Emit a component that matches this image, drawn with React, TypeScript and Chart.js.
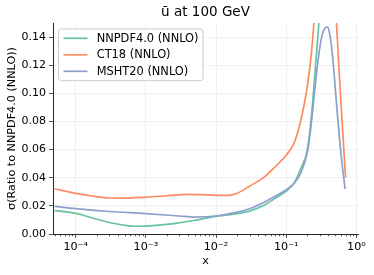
import React, { useEffect, useRef } from "react";
import { Chart, registerables } from "chart.js";

Chart.register(...registerables);

const chartTitle = "ū at 100 GeV";
const xAxisTitle = "x";
const yAxisTitle = "σ(Ratio to NNPDF4.0 (NNLO))";

const seriesLabels = ["NNPDF4.0 (NNLO)", "CT18 (NNLO)", "MSHT20 (NNLO)"];
const seriesColors = ["#66c2a5", "#fc8d62", "#8da0cb"];

const nnpdfX = [5e-5, 1e-4, 2e-4, 3e-4, 5e-4, 7e-4, 1e-3, 2e-3, 3e-3, 5e-3, 1e-2, 2e-2, 3e-2, 5e-2, 7e-2, 0.1, 0.13, 0.16, 0.2, 0.23, 0.26, 0.29, 0.32, 0.4, 0.5, 0.7];
const nnpdfY = [0.0166, 0.0147, 0.0105, 0.0082, 0.0062, 0.0055, 0.0056, 0.0068, 0.008, 0.0098, 0.0125, 0.0145, 0.0163, 0.0208, 0.0255, 0.0305, 0.0365, 0.046, 0.06, 0.085, 0.118, 0.148, 0.18, 0.3, 0.5, 0.8];

const ct18X = [5e-5, 1e-4, 2e-4, 3e-4, 5e-4, 1e-3, 2e-3, 4e-3, 6e-3, 1e-2, 1.5e-2, 2e-2, 3e-2, 5e-2, 7e-2, 0.1, 0.13, 0.16, 0.2, 0.23, 0.25, 0.3, 0.38, 0.45, 0.52, 0.6, 0.7];
const ct18Y = [0.0322, 0.0289, 0.0265, 0.0256, 0.0255, 0.0262, 0.0272, 0.0282, 0.028, 0.0275, 0.0275, 0.029, 0.034, 0.041, 0.048, 0.056, 0.065, 0.08, 0.105, 0.13, 0.152, 0.2, 0.25, 0.22, 0.15, 0.095, 0.04];

const mshtX = [5e-5, 1e-4, 3e-4, 1e-3, 3e-3, 5e-3, 1e-2, 2e-2, 3e-2, 5e-2, 0.1, 0.13, 0.16, 0.2, 0.22, 0.25, 0.28, 0.32, 0.36, 0.39, 0.42, 0.46, 0.53, 0.6, 0.69];
const mshtY = [0.0197, 0.018, 0.016, 0.0145, 0.0128, 0.012, 0.0128, 0.0155, 0.018, 0.023, 0.0315, 0.036, 0.043, 0.058, 0.072, 0.098, 0.121, 0.14, 0.1465, 0.147, 0.141, 0.125, 0.088, 0.058, 0.032];

const xTicks = [1e-4, 1e-3, 1e-2, 1e-1, 1];
const xTickLabels = ["10⁻⁴", "10⁻³", "10⁻²", "10⁻¹", "10⁰"];
const yTicks = [0, 0.02, 0.04, 0.06, 0.08, 0.1, 0.12, 0.14];

const FONT = "'DejaVu Sans', sans-serif";
const INK = "#262626";

function pts(xs: number[], ys: number[]) {
  return xs.map((x, i) => ({ x, y: ys[i] }));
}

const overlayPlugin = {
  id: "overlay",
  afterDraw(chart: any) {
    const ctx = chart.ctx;
    const area = chart.chartArea;
    const xs = chart.scales.x;
    ctx.save();
    // minor ticks on log x axis
    ctx.strokeStyle = INK;
    ctx.lineWidth = 0.8;
    for (let k = -5; k <= 0; k++) {
      for (let m = 2; m <= 9; m++) {
        const v = m * Math.pow(10, k);
        if (v < xs.min || v > xs.max) continue;
        const px = Math.round(xs.getPixelForValue(v)) + 0.5;
        ctx.beginPath();
        ctx.moveTo(px, area.bottom);
        ctx.lineTo(px, area.bottom + 2.2);
        ctx.stroke();
      }
    }
    // title
    ctx.fillStyle = "#000";
    ctx.font = "13.5px " + FONT;
    ctx.textAlign = "center";
    ctx.textBaseline = "middle";
    ctx.fillText(chartTitle, (area.left + area.right) / 2, 12.5);
    // legend
    ctx.font = "11.4px " + FONT;
    let maxW = 0;
    seriesLabels.forEach((l) => (maxW = Math.max(maxW, ctx.measureText(l).width)));
    const bx = area.left + 5.5;
    const by = area.top + 6;
    const bw = 38.2 + maxW + 4.5;
    const bh = 51.7;
    ctx.beginPath();
    (ctx as any).roundRect(bx, by, bw, bh, 3);
    ctx.fillStyle = "rgba(255,255,255,0.8)";
    ctx.fill();
    ctx.strokeStyle = "#cccccc";
    ctx.lineWidth = 1;
    ctx.stroke();
    seriesLabels.forEach((label, i) => {
      const y = by + 9.3 + i * 16.5;
      ctx.strokeStyle = seriesColors[i];
      ctx.lineWidth = 1.7;
      ctx.beginPath();
      ctx.moveTo(bx + 5, y);
      ctx.lineTo(bx + 29, y);
      ctx.stroke();
      ctx.fillStyle = "#000";
      ctx.textAlign = "left";
      ctx.textBaseline = "middle";
      ctx.fillText(label, bx + 38.2, y + 0.5);
    });
    ctx.restore();
  },
};

export default function App() {
  const ref = useRef<HTMLCanvasElement | null>(null);
  useEffect(() => {
    if (!ref.current) return;
    const mk = (i: number, xs: number[], ys: number[], order: number) => ({
      label: seriesLabels[i],
      data: pts(xs, ys),
      borderColor: seriesColors[i],
      backgroundColor: seriesColors[i],
      borderWidth: 1.7,
      pointRadius: 0,
      cubicInterpolationMode: "monotone" as const,
      fill: false,
      order,
    });
    const chart = new Chart(ref.current, {
      type: "line",
      data: {
        datasets: [mk(0, nnpdfX, nnpdfY, 3), mk(1, ct18X, ct18Y, 2), mk(2, mshtX, mshtY, 1)],
      },
      options: {
        responsive: false,
        animation: false,
        devicePixelRatio: 1,
        layout: { padding: { left: 0, right: 16, top: 23, bottom: 0 } },
        plugins: { legend: { display: false }, title: { display: false }, tooltip: { enabled: false } },
        scales: {
          x: {
            type: "logarithmic",
            min: 4.75e-5,
            max: 1.054,
            afterBuildTicks: (s: any) => {
              s.ticks = xTicks.map((v) => ({ value: v }));
            },
            afterFit: (s: any) => {
              s.height = 41;
            },
            ticks: {
              autoSkip: false,
              maxRotation: 0,
              padding: 2,
              color: "#000",
              font: { family: FONT, size: 11.2 },
              callback: (v: any) => {
                const i = xTicks.findIndex((t) => Math.abs(Math.log10(t) - Math.log10(v)) < 1e-6);
                return i >= 0 ? xTickLabels[i] : "";
              },
            },
            grid: { color: "#ececec", tickColor: INK, tickLength: 4, lineWidth: 0.8 },
            border: { display: true, color: INK, width: 1 },
            title: {
              display: true,
              text: xAxisTitle,
              color: "#000",
              font: { family: FONT, size: 11.2 },
              padding: { top: 0, bottom: 7.3 },
            },
          },
          y: {
            type: "linear",
            min: 0,
            max: 0.15,
            afterBuildTicks: (s: any) => {
              s.ticks = yTicks.map((v) => ({ value: v }));
            },
            afterFit: (s: any) => {
              s.width = 53;
            },
            ticks: {
              padding: 3,
              color: "#000",
              font: { family: FONT, size: 11 },
              callback: (v: any) => Number(v).toFixed(2),
            },
            grid: { color: "#ececec", tickColor: INK, tickLength: 4, lineWidth: 0.8 },
            border: { display: true, color: INK, width: 1 },
            title: {
              display: true,
              text: yAxisTitle,
              color: "#000",
              font: { family: FONT, size: 11.2 },
              padding: { top: 5.3, bottom: 0 },
            },
          },
        },
      },
      plugins: [overlayPlugin],
    });
    return () => chart.destroy();
  }, []);
  return (
    <div style={{ position: "fixed", left: 0, top: 0, width: 374, height: 275, background: "#fff" }}>
      <canvas ref={ref} width={374} height={275} style={{ display: "block", width: 374, height: 275 }} />
    </div>
  );
}
